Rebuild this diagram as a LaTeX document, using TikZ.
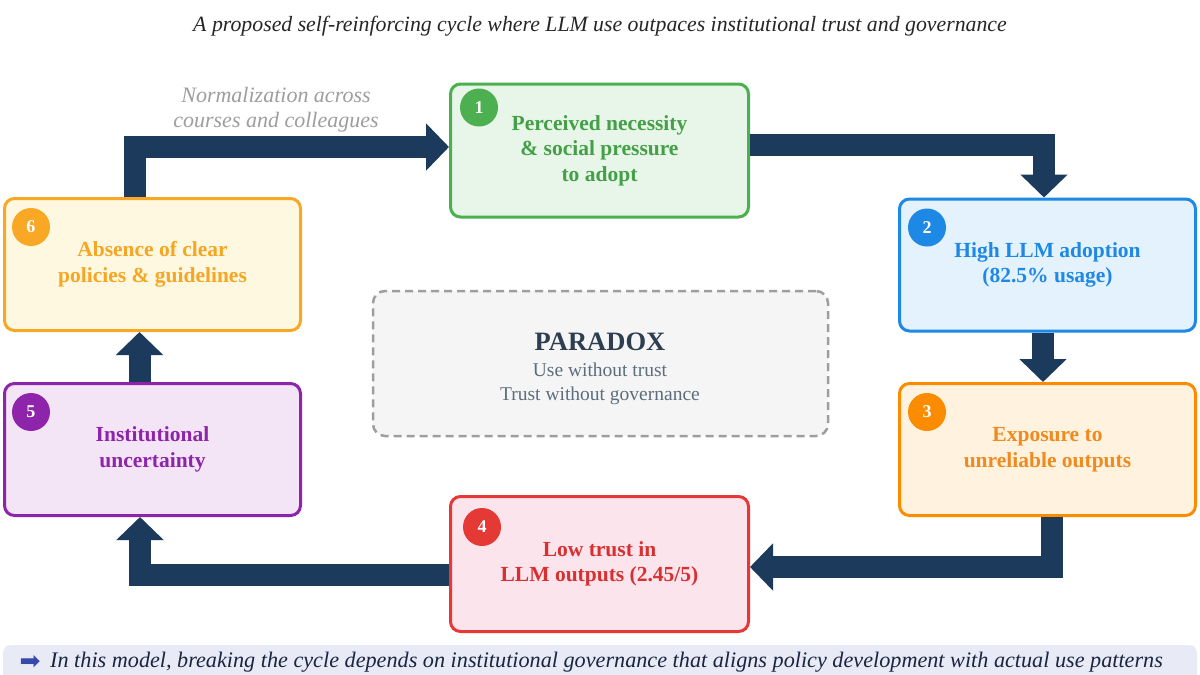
\documentclass[tikz,border=0pt]{standalone}
\usepackage{fontspec}
\setmainfont{Liberation Serif}
\newfontfamily\symfont{DejaVu Sans}
\usetikzlibrary{arrows.meta,calc}
\definecolor{navy}{HTML}{1B3A5C}
\definecolor{gB}{HTML}{4CAF50}\definecolor{gF}{HTML}{E8F5E9}\definecolor{gT}{HTML}{43A047}
\definecolor{bB}{HTML}{1E88E5}\definecolor{bF}{HTML}{E3F2FD}\definecolor{bT}{HTML}{1E88E5}
\definecolor{oB}{HTML}{FB8C00}\definecolor{oF}{HTML}{FFF3E0}\definecolor{oT}{HTML}{F08A1C}
\definecolor{rB}{HTML}{E53935}\definecolor{rF}{HTML}{FCE4EC}\definecolor{rT}{HTML}{D83030}
\definecolor{pB}{HTML}{8E24AA}\definecolor{pF}{HTML}{F3E5F5}\definecolor{pT}{HTML}{8E24AA}
\definecolor{yB}{HTML}{F9A825}\definecolor{yF}{HTML}{FFF8E1}\definecolor{yT}{HTML}{F5A623}
\definecolor{pxB}{HTML}{9E9E9E}\definecolor{pxF}{HTML}{F5F5F5}\definecolor{pxT}{HTML}{2C3E50}\definecolor{pxS}{HTML}{5D6D7E}
\definecolor{lbl}{HTML}{9E9E9E}
\definecolor{banF}{HTML}{E8EAF6}\definecolor{banT}{HTML}{1A2540}\definecolor{banA}{HTML}{3949AB}
\begin{document}
\begin{tikzpicture}[x=1pt,y=-1pt,
  stepbox/.style={rounded corners=10pt, line width=3pt, minimum width=296pt, minimum height=132pt,
    align=center, inner sep=0pt, font=\fontsize{21.5}{25.5}\selectfont\bfseries},
  numdot/.style={circle, minimum size=38pt, inner sep=0pt, text=white,
    font=\fontsize{18}{18}\selectfont\bfseries},
  flow/.style={navy, line width=22pt, -{Triangle[length=23pt,width=46pt]}},
  pxbox/.style={rounded corners=12pt, line width=2.5pt, draw=pxB, fill=pxF, dash pattern=on 8pt off 5pt,
    minimum width=455pt, minimum height=145pt}
]
\clip (0,0) rectangle (1200,675);
\fill[white] (0,0) rectangle (1200,675);

% subtitle
\node[font=\fontsize{21.8}{25}\selectfont\itshape, text=black!85] (sub) at (600,26)
  {A proposed self-reinforcing cycle where LLM use outpaces institutional trust and governance};

% step boxes
\node[stepbox, minimum width=298pt, minimum height=133pt, draw=gB, fill=gF, text=gT] (n1) at (599.5,150.5)
  {Perceived necessity\\\& social pressure\\to adopt};
\node[stepbox, draw=bB, fill=bF, text=bT] (n2) at (1047.5,265) {High LLM adoption\\(82.5\% usage)};
\node[stepbox, draw=oB, fill=oF, text=oT] (n3) at (1047.5,449.5) {Exposure to\\unreliable outputs};
\node[stepbox, minimum width=298pt, minimum height=135pt, draw=rB, fill=rF, text=rT] (n4) at (599.5,564)
  {Low trust in\\LLM outputs (2.45/5)};
\node[stepbox, draw=pB, fill=pF, text=pT] (n5) at (152.5,449.5) {Institutional\\uncertainty};
\node[stepbox, draw=yB, fill=yF, text=yT] (n6) at (152.5,264.5) {Absence of clear\\policies \& guidelines};

% number dots
\node[numdot, fill=gB] (c1) at ($(n1.north west)+(30,25)$) {1};
\node[numdot, fill=bB] (c2) at ($(n2.north west)+(29,30)$) {2};
\node[numdot, fill=oB] (c3) at ($(n3.north west)+(29,30)$) {3};
\node[numdot, fill=rB] (c4) at ($(n4.north west)+(33,32)$) {4};
\node[numdot, fill=pB] (c5) at ($(n5.north west)+(28,30)$) {5};
\node[numdot, fill=yB] (c6) at ($(n6.north west)+(28,30)$) {6};

% paradox
\node[pxbox] (px) at (600.5,363.5) {};
\node[font=\fontsize{26.5}{30}\selectfont\bfseries, text=pxT] (pxt) at (600,342) {PARADOX};
\node[font=\fontsize{19.5}{24}\selectfont, text=pxS, align=center] (pxs) at (600,384)
  {Use without trust\\Trust without governance};

% connectors
\draw[flow] ([xshift=-17.5pt]n6.north) |- ([yshift=3.5pt]n1.west);
\draw[flow] ([yshift=5.5pt]n1.east) -| ([xshift=-3.5pt]n2.north);
\draw[flow] ([xshift=-4.5pt]n2.south) -- ([xshift=-4.5pt]n3.north);
\draw[flow] ([xshift=4.5pt]n3.south) |- ([yshift=-3pt]n4.east);
\draw[flow] ([yshift=-11pt]n4.west) -| ([xshift=-12.5pt]n5.south);
\draw[flow] ([xshift=-13pt]n5.north) -- ([xshift=-13pt]n6.south);

% connector label
\node[font=\fontsize{22}{25}\selectfont\itshape, text=lbl, align=center] (lab) at (276,109.5)
  {Normalization across\\courses and colleagues};

% banner
\fill[banF, rounded corners=8pt] (3,645) rectangle (1197,720);
\node[font=\symfont\fontsize{25}{25}\selectfont, text=banA, inner sep=0pt] (barr) at (30,662) {➡};
\node[anchor=west, font=\fontsize{22.2}{25}\selectfont\itshape, text=banT, inner sep=1pt] (bant) at (49,662)
  {In this model, breaking the cycle depends on institutional governance that aligns policy development with actual use patterns};
\end{tikzpicture}
\end{document}
